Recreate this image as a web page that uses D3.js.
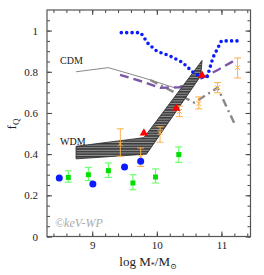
<!DOCTYPE html>
<html>
<head>
<meta charset="utf-8">
<script src="https://cdn.jsdelivr.net/npm/d3@7"></script>
<style>
body { margin: 0; background: #fff; }
text { font-family: "Liberation Serif", "DejaVu Serif", serif; }
</style>
</head>
<body>
<div id="chart"></div>
<script>
// model curves
var blueDotX = [9.45, 9.75, 9.87, 10.0, 10.2, 10.4, 10.55, 10.68, 10.78, 10.87, 11.0, 11.3]
var blueDotY = [0.99, 0.99, 0.935, 0.90, 0.877, 0.845, 0.80, 0.775, 0.775, 0.87, 0.95, 0.95]
var purpleX = [9.43, 9.8, 10.05, 10.35, 10.7, 10.95, 11.22]
var purpleY = [0.785, 0.75, 0.722, 0.725, 0.77, 0.81, 0.858]
var cdmX = [8.75, 9.25, 9.8, 10.3]
var cdmY = [0.80, 0.82, 0.77, 0.72]
var dashDotX = [9.9, 10.58, 10.94, 11.22]
var dashDotY = [0.76, 0.65, 0.723, 0.536]
// WDM band
var wdmUpX = [8.75, 9.80, 10.70]
var wdmUpY = [0.438, 0.48, 0.855]
var wdmLoX = [8.75, 9.84, 10.68]
var wdmLoY = [0.377, 0.40, 0.78]
// observations
var orangeX = [9.435, 9.75, 10.05, 10.35, 10.65, 10.94, 11.25]
var orangeY = [0.45, 0.385, 0.505, 0.607, 0.646, 0.723, 0.82]
var orangeTop = [0.523, 0.43, 0.533, 0.633, 0.678, 0.747, 0.867]
var orangeBot = [0.389, 0.34, 0.458, 0.582, 0.62, 0.698, 0.77]
var greenX = [8.63, 8.94, 9.25, 9.63, 9.98, 10.34]
var greenY = [0.287, 0.30, 0.32, 0.26, 0.289, 0.398]
var greenTop = [0.319, 0.336, 0.357, 0.30, 0.328, 0.435]
var greenBot = [0.264, 0.271, 0.287, 0.227, 0.26, 0.36]
var blueX = [8.49, 9.01, 9.50, 9.75]
var blueY = [0.284, 0.255, 0.338, 0.365]
var redX = [9.8, 10.3, 10.7]
var redY = [0.50, 0.62, 0.78]
var xTicks = [9, 10, 11]
var yTicks = [0, 0.2, 0.4, 0.6, 0.8, 1]

var width = 264, height = 275
var svg = d3.select("#chart").append("svg").attr("width", width).attr("height", height)
var x = d3.scaleLinear().domain([8.3, 11.45]).range([47, 250.5])
var y = d3.scaleLinear().domain([0, 1.1]).range([236.5, 10])

function pts(xs, ys) {
    return xs.map(function(d, i) { return [d, ys[i]] })
}
var line = d3.line().x(function(d) { return x(d[0]) }).y(function(d) { return y(d[1]) })

// hatch pattern for the band
var pat = svg.append("defs").append("pattern").attr("id", "hatch")
    .attr("patternUnits", "userSpaceOnUse").attr("width", 4).attr("height", 2.6)
pat.append("rect").attr("width", 4).attr("height", 2.6).attr("fill", "#3a3a3a")
pat.append("rect").attr("y", 1.6).attr("width", 4).attr("height", 0.8).attr("fill", "#b0b0b0")

// lines
svg.append("path").attr("d", line(pts(cdmX, cdmY))).attr("fill", "none")
    .attr("stroke", "#888").attr("stroke-width", 1)
svg.append("path").attr("d", line(pts(dashDotX, dashDotY))).attr("fill", "none")
    .attr("stroke", "#888").attr("stroke-width", 2.4).attr("stroke-dasharray", "8,4,2,4")
svg.append("path").attr("d", line(pts(purpleX, purpleY))).attr("fill", "none")
    .attr("stroke", "#7d55a8").attr("stroke-width", 2.4).attr("stroke-dasharray", "9,5")

var band = pts(wdmUpX, wdmUpY).concat(pts(wdmLoX, wdmLoY).reverse())
svg.append("path").attr("d", line(band) + "Z").attr("fill", "url(#hatch)")
    .attr("stroke", "#222").attr("stroke-width", 0.8)

svg.append("path").attr("d", line(pts(blueDotX, blueDotY))).attr("fill", "none")
    .attr("stroke", "#0a1cff").attr("stroke-width", 3.6).attr("stroke-linecap", "round")
    .attr("stroke-dasharray", "0,5.4")

// error bars
function errBars(xs, tops, bots, color, cap) {
    var g = svg.append("g").attr("stroke", color).attr("stroke-width", 1)
    xs.forEach(function(d, i) {
        g.append("line").attr("x1", x(d)).attr("x2", x(d)).attr("y1", y(tops[i])).attr("y2", y(bots[i]))
        g.append("line").attr("x1", x(d) - cap).attr("x2", x(d) + cap).attr("y1", y(tops[i])).attr("y2", y(tops[i]))
        g.append("line").attr("x1", x(d) - cap).attr("x2", x(d) + cap).attr("y1", y(bots[i])).attr("y2", y(bots[i]))
    })
}
errBars(orangeX, orangeTop, orangeBot, "#ffb04a", 3.5)
var gx = svg.append("g").attr("stroke", "#ffb04a").attr("stroke-width", 1)
orangeX.forEach(function(d, i) {
    var cx = x(d), cy = y(orangeY[i])
    gx.append("path").attr("d", "M" + (cx - 2.5) + "," + (cy - 2.5) + "L" + (cx + 2.5) + "," + (cy + 2.5) +
        "M" + (cx - 2.5) + "," + (cy + 2.5) + "L" + (cx + 2.5) + "," + (cy - 2.5))
})
errBars(greenX, greenTop, greenBot, "#55ff55", 3.5)
svg.selectAll(".gsq").data(pts(greenX, greenY)).enter().append("rect").attr("class", "gsq")
    .attr("x", function(d) { return x(d[0]) - 2.5 }).attr("y", function(d) { return y(d[1]) - 2.5 })
    .attr("width", 5).attr("height", 5).attr("fill", "#00e000")

svg.selectAll(".bc").data(pts(blueX, blueY)).enter().append("circle").attr("class", "bc")
    .attr("cx", function(d) { return x(d[0]) }).attr("cy", function(d) { return y(d[1]) })
    .attr("r", 3.5).attr("fill", "#0a1cff")
svg.selectAll(".rt").data(pts(redX, redY)).enter().append("path").attr("class", "rt")
    .attr("d", d3.symbol().type(d3.symbolTriangle).size(30))
    .attr("transform", function(d) { return "translate(" + x(d[0]) + "," + (y(d[1]) - 0.5) + ")" })
    .attr("fill", "#ff0000")

// axes, ticks inward on all four sides
var xMinor = d3.range(8.4, 11.45, 0.2)
var yMinor = d3.range(0, 1.1, 0.05)
function styleAxis(g) {
    g.select(".domain").remove()
    g.selectAll("line").attr("stroke", "#444")
    g.selectAll("text").attr("fill", "#222").style("font-family", "Liberation Serif").style("font-size", "11px")
}
svg.append("g").attr("transform", "translate(0,236.5)")
    .call(d3.axisBottom(x).tickValues(xMinor).tickSize(-3).tickFormat("")).call(styleAxis)
svg.append("g").attr("transform", "translate(0,236.5)")
    .call(d3.axisBottom(x).tickValues(xTicks).tickSize(-5).tickPadding(5).tickFormat(d3.format("d"))).call(styleAxis)
svg.append("g").attr("transform", "translate(0,10)")
    .call(d3.axisTop(x).tickValues(xMinor).tickSize(-3).tickFormat("")).call(styleAxis)
svg.append("g").attr("transform", "translate(0,10)")
    .call(d3.axisTop(x).tickValues(xTicks).tickSize(-5).tickFormat("")).call(styleAxis)
svg.append("g").attr("transform", "translate(47,0)")
    .call(d3.axisLeft(y).tickValues(yMinor).tickSize(-3).tickFormat("")).call(styleAxis)
svg.append("g").attr("transform", "translate(47,0)")
    .call(d3.axisLeft(y).tickValues(yTicks).tickSize(-5).tickPadding(9).tickFormat(function(d) { return d3.format("")(+d.toFixed(1)) })).call(styleAxis)
svg.append("g").attr("transform", "translate(250.5,0)")
    .call(d3.axisRight(y).tickValues(yMinor).tickSize(-3).tickFormat("")).call(styleAxis)
svg.append("g").attr("transform", "translate(250.5,0)")
    .call(d3.axisRight(y).tickValues(yTicks).tickSize(-5).tickFormat("")).call(styleAxis)
svg.append("rect").attr("x", 47).attr("y", 10).attr("width", 203.5).attr("height", 226.5)
    .attr("fill", "none").attr("stroke", "#555").attr("stroke-width", 1.2)

// labels
svg.append("text").attr("x", 60).attr("y", 64).text("CDM").style("font-size", "10px").attr("fill", "#222")
svg.append("text").attr("x", 60).attr("y", 145).text("WDM").style("font-size", "10px").attr("fill", "#111")
svg.append("text").attr("x", 55).attr("y", 227).text("©keV-WP").style("font-size", "12px")
    .style("font-style", "italic").attr("fill", "#aaa")
var yl = svg.append("text").attr("transform", "translate(16,124) rotate(-90)").attr("text-anchor", "middle")
    .style("font-size", "13px").attr("fill", "#222")
yl.append("tspan").text("f")
yl.append("tspan").text("Q").attr("dy", 3).style("font-size", "9px")
var xl = svg.append("text").attr("x", 148).attr("y", 266).attr("text-anchor", "middle")
    .style("font-size", "13px").attr("fill", "#222")
xl.append("tspan").text("log  M")
xl.append("tspan").text("*").attr("dy", 2).style("font-size", "8px")
xl.append("tspan").text("/M").attr("dy", -2)
xl.append("tspan").text("⊙").attr("dy", 3).style("font-size", "8px")
</script>
</body>
</html>
